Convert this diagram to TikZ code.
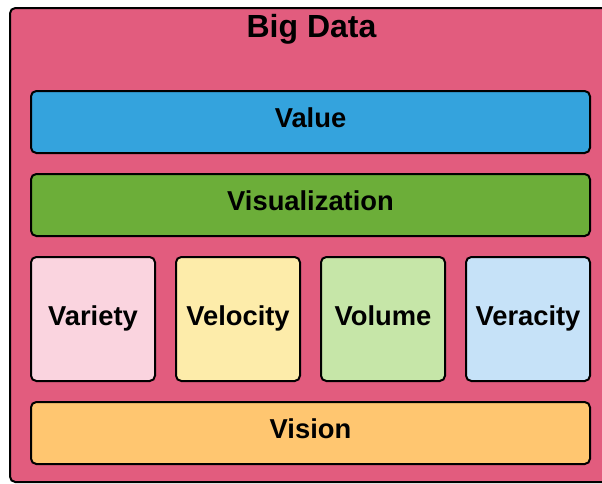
\documentclass[tikz,border=0pt]{standalone}
\usepackage{fontspec}
\setmainfont{Liberation Sans}
\usepackage{tikz}

\definecolor{bigpink}{RGB}{226,92,126}
\definecolor{valueblue}{RGB}{52,163,221}
\definecolor{visgreen}{RGB}{108,174,57}
\definecolor{varpink}{RGB}{250,212,223}
\definecolor{velyellow}{RGB}{253,236,170}
\definecolor{volgreen}{RGB}{198,230,168}
\definecolor{verblue}{RGB}{198,226,248}
\definecolor{visorange}{RGB}{255,198,112}

\begin{document}
\begin{tikzpicture}[x=0.75pt,y=0.75pt,yscale=-1,xscale=1,
  box/.style={draw=black, line width=1.5, rounded corners=4},
  lbl/.style={font=\fontsize{20.5}{24}\selectfont\bfseries, anchor=base, inner sep=0}]
%set diagram area to 602 x 483
\fill [white] (0,0) rectangle (602,483);
\clip (0,0) rectangle (602,483);

%Shape: Rounded Rect (outer)
\draw [box, fill=bigpink] (10,8) rectangle (625,482) ;

%Shape: Rounded Rect (value)
\draw [box, fill=valueblue] (31,91) rectangle (590,153) ;
%Shape: Rounded Rect (visualization)
\draw [box, fill=visgreen] (31,174) rectangle (590,236) ;

%Shape: Rounded Rect (four V boxes)
\draw [box, fill=varpink] (31,257) rectangle (155,381) ;
\draw [box, fill=velyellow] (176,257) rectangle (300,381) ;
\draw [box, fill=volgreen] (321,257) rectangle (445,381) ;
\draw [box, fill=verblue] (466,257) rectangle (590,381) ;

%Shape: Rounded Rect (vision)
\draw [box, fill=visorange] (31,402) rectangle (590,464) ;

% Text Node
\draw (311.5,37) node [lbl, font=\fontsize{24}{28}\selectfont\bfseries] (bigdata) {Big Data};
% Text Node
\draw (310.5,127) node [lbl] (value) {Value};
% Text Node
\draw (310.5,210) node [lbl] (visualization) {Visualization};
% Text Node
\draw (93,325) node [lbl] (variety) {Variety};
% Text Node
\draw (238,325) node [lbl] (velocity) {Velocity};
% Text Node
\draw (383,325) node [lbl] (volume) {Volume};
% Text Node
\draw (528,325) node [lbl] (veracity) {Veracity};
% Text Node
\draw (310.5,438) node [lbl] (vision) {Vision};

\end{tikzpicture}
\end{document}
